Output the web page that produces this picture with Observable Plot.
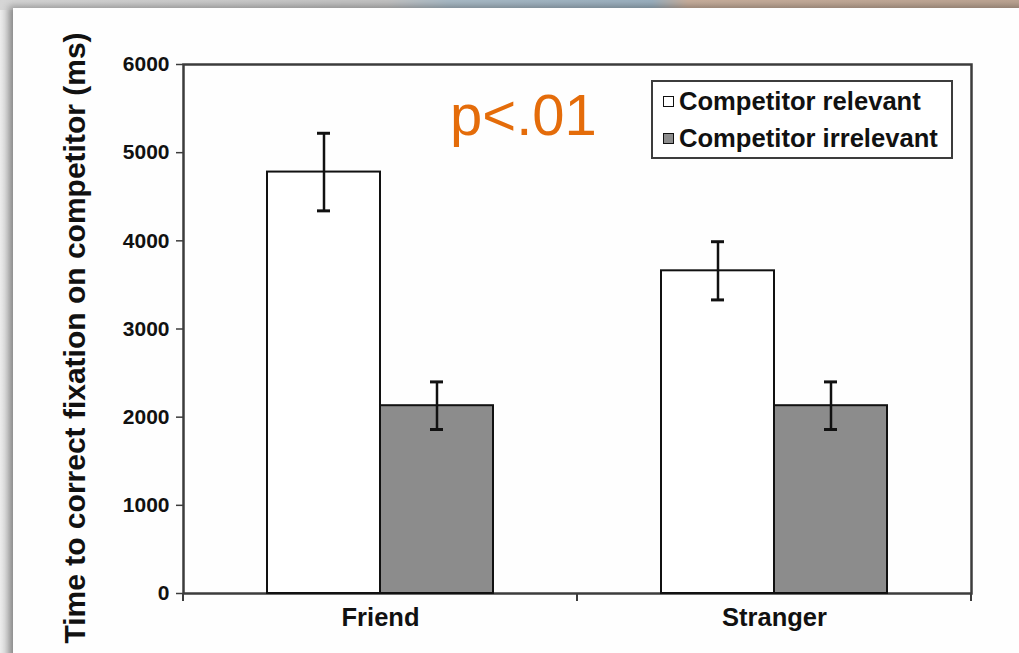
<!DOCTYPE html>
<html>
<head>
<meta charset="utf-8">
<script src="https://cdn.jsdelivr.net/npm/d3@7"></script>
<script src="https://cdn.jsdelivr.net/npm/@observablehq/plot@0.6"></script>
<style>
  html, body { margin: 0; padding: 0; }
  body {
    width: 1019px; height: 653px; position: relative; overflow: hidden;
    background: linear-gradient(to right, #ececec 0px, #dcdcdc 6px, #c4c4c4 13px);
    font-family: "Liberation Sans", Arial, sans-serif;
  }
  .strip {
    position: absolute; left: 0; top: 0; width: 1019px; height: 10px;
    background: linear-gradient(to right, #d6d6d6 0%, #c2c2c2 38%, #a9bac6 44%, #9bb0bf 64%, #c7ae9c 67.5%, #bca593 100%);
  }
  .card {
    position: absolute; left: 13px; top: 8px; right: -10px; bottom: -10px;
    background: #fefefe;
    box-shadow: -4px -2px 7px rgba(0,0,0,0.3);
  }
  #chart { position: absolute; left: 0; top: 0; }
  #chart g[aria-label="y-axis label"] text { font-size: 30px; }
  .legend {
    position: absolute; left: 651px; top: 80px; width: 298px; height: 75px;
    border: 2px solid #3c3c3c; background: #fff;
  }
  .legend .row {
    position: absolute; left: 10px; display: flex; align-items: center;
    font-size: 25.6px; font-weight: bold; color: #111; white-space: nowrap;
  }
  .legend .sw {
    width: 9px; height: 9px; border: 1.5px solid #111; margin-right: 5px;
  }
  .pval {
    position: absolute; left: 450px; top: 81px;
    font-size: 58px; color: #e46c0a; font-family: "Liberation Sans", Arial, sans-serif;
  }
</style>
</head>
<body>
<div class="strip"></div>
<div class="card"></div>
<div id="chart"></div>
<div class="pval">p&lt;.01</div>
<div class="legend" id="legend"></div>
<script>
// Groups along the x axis and the two conditions within each group
const groups = ["Friend", "Stranger"];
const conditions = ["Competitor relevant", "Competitor irrelevant"];

// Mean time (ms) and error bar half-width for each condition, by group
const relevantMeans = [4780, 3660];
const relevantErrors = [440, 330];
const irrelevantMeans = [2130, 2130];
const irrelevantErrors = [270, 270];

const yTicks = [0, 1000, 2000, 3000, 4000, 5000, 6000];
const yLabel = "Time to correct fixation on competitor (ms)";
const fills = ["#ffffff", "#8c8c8c"];

const data = groups.flatMap((g, i) => [
  {group: g, condition: conditions[0], mean: relevantMeans[i], err: relevantErrors[i]},
  {group: g, condition: conditions[1], mean: irrelevantMeans[i], err: irrelevantErrors[i]}
]);

const ink = "#111";
const frameInk = "#3c3c3c";

const chart = Plot.plot({
  width: 1019,
  height: 653,
  marginLeft: 182,
  marginRight: 48,
  marginTop: 64,
  marginBottom: 60,
  style: {background: "transparent", fontFamily: "'Liberation Sans', Arial, sans-serif", overflow: "visible"},
  fx: {domain: groups, padding: 0, axis: null, label: null},
  x: {domain: conditions, paddingInner: 0, paddingOuter: 0.73, axis: null},
  y: {domain: [0, 6000], label: null},
  color: {domain: conditions, range: fills},
  marks: [
    Plot.frame({facet: "super", stroke: frameInk, strokeWidth: 2.5}),
    Plot.barY(data, {fx: "group", x: "condition", y: "mean", fill: "condition", stroke: ink, strokeWidth: 2}),
    Plot.ruleX(data, {fx: "group", x: "condition", y1: d => d.mean - d.err, y2: d => d.mean + d.err, stroke: ink, strokeWidth: 2.5}),
    Plot.tickY(data, {fx: "group", x: "condition", y: d => d.mean + d.err, stroke: ink, strokeWidth: 3, insetLeft: 50, insetRight: 50}),
    Plot.tickY(data, {fx: "group", x: "condition", y: d => d.mean - d.err, stroke: ink, strokeWidth: 3, insetLeft: 50, insetRight: 50}),
    Plot.axisY({
      ticks: yTicks, tickFormat: d => String(d), tickSize: 7, tickPadding: 7,
      fontSize: 21, fontWeight: "bold", stroke: frameInk, strokeWidth: 1.5, fill: ink,
      label: yLabel, labelAnchor: "center", labelArrow: "none", labelOffset: 120
    }),
    Plot.axisFx({anchor: "bottom", tickSize: 0, tickPadding: 14, fontSize: 25.5, fontWeight: "bold", fill: ink, label: null})
  ]
});

document.getElementById("chart").appendChild(chart);

// Nudge the rotated y-axis title a little further down the axis
d3.select(chart).select('g[aria-label="y-axis label"] text').attr("dx", -9);

// Short tick marks below the x axis at the group boundaries, placed from the fx and y scales
const fxScale = chart.scale("fx");
const yScale = chart.scale("y");
const edges = groups.map(g => fxScale.apply(g)).concat([fxScale.apply(groups[groups.length - 1]) + fxScale.bandwidth]);
const y0 = yScale.apply(0);
d3.select(chart).append("g")
  .attr("stroke", frameInk).attr("stroke-width", 2)
  .selectAll("line").data(edges).join("line")
  .attr("x1", d => d).attr("x2", d => d)
  .attr("y1", y0).attr("y2", y0 + 8);

// Legend built from the conditions and fill colours
const legend = d3.select("#legend");
conditions.forEach((c, i) => {
  const row = legend.append("div").attr("class", "row").style("top", (i === 0 ? 5 : 42) + "px");
  row.append("div").attr("class", "sw").style("background", fills[i]);
  row.append("span").text(c);
});
</script>
</body>
</html>
